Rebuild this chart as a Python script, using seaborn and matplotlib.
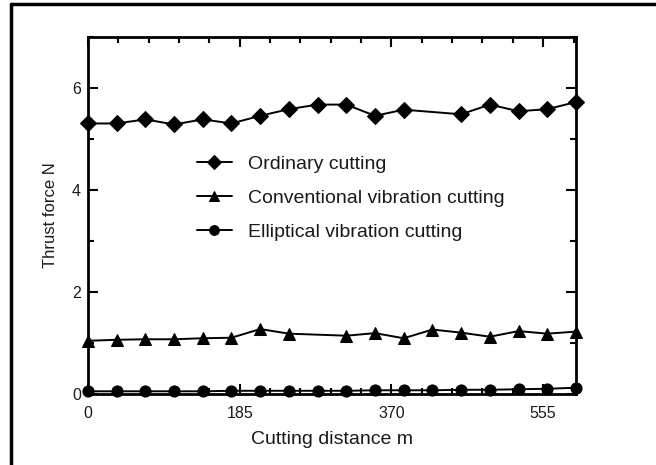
import matplotlib
matplotlib.use("Agg")
import matplotlib.pyplot as plt
from matplotlib.ticker import MultipleLocator, FixedLocator
import seaborn as sns
import pandas as pd

# Data
ordinary_x = [0, 35, 70, 105, 140, 175, 210, 245, 280, 315, 350, 385, 455, 490, 525, 560, 595]
ordinary_y = [5.30, 5.30, 5.38, 5.28, 5.38, 5.30, 5.45, 5.58, 5.67, 5.67, 5.45, 5.57, 5.48, 5.67, 5.54, 5.58, 5.72]

conv_x = [0, 35, 70, 105, 140, 175, 210, 245, 315, 350, 385, 420, 455, 490, 525, 560, 595]
conv_y = [1.04, 1.06, 1.07, 1.07, 1.09, 1.10, 1.27, 1.18, 1.14, 1.19, 1.09, 1.26, 1.20, 1.12, 1.23, 1.18, 1.22]

ellip_x = [0, 35, 70, 105, 140, 175, 210, 245, 280, 315, 350, 385, 420, 455, 490, 525, 560, 595]
ellip_y = [0.05, 0.05, 0.05, 0.05, 0.05, 0.06, 0.06, 0.06, 0.06, 0.06, 0.07, 0.07, 0.07, 0.08, 0.08, 0.09, 0.10, 0.12]

series_names = ["Ordinary cutting", "Conventional vibration cutting", "Elliptical vibration cutting"]
x_ticks = [0, 185, 370, 555]
y_ticks = [0, 2, 4, 6]

frames = []
for name, xs, ys in zip(series_names, [ordinary_x, conv_x, ellip_x], [ordinary_y, conv_y, ellip_y]):
    frames.append(pd.DataFrame({"x": xs, "y": ys, "series": name}))
df = pd.concat(frames, ignore_index=True)

sns.set_style("ticks")
plt.rcParams["font.family"] = ["Liberation Sans", "DejaVu Sans"]

fig = plt.figure(figsize=(6.56, 4.65), dpi=100)
ax = fig.add_axes([0.134, 0.153, 0.744, 0.768])

sns.lineplot(data=df, x="x", y="y", hue="series", style="series",
             hue_order=series_names, style_order=series_names,
             palette=["black", "black", "black"],
             markers={"Ordinary cutting": "D", "Conventional vibration cutting": "^",
                      "Elliptical vibration cutting": "o"},
             dashes=False, markersize=8, linewidth=1.4, markeredgecolor="black",
             ax=ax, legend=True)
for ln in ax.lines:
    ln.set_clip_on(False)
    ln.set_zorder(3)

ax.set_xlim(0, 595)
ax.set_ylim(0, 7)
ax.xaxis.set_major_locator(FixedLocator(x_ticks))
ax.xaxis.set_minor_locator(MultipleLocator(37))
ax.yaxis.set_major_locator(FixedLocator(y_ticks))
ax.yaxis.set_minor_locator(MultipleLocator(1))
ax.tick_params(which="both", direction="in", top=True, right=True, width=1.5, colors="black",
               labelsize=11.5, labelcolor="#1a1a1a")
ax.tick_params(which="major", length=7)
ax.tick_params(axis="x", which="major", pad=9)
ax.tick_params(axis="y", which="major", pad=5)
ax.tick_params(which="minor", length=4)
for s in ax.spines.values():
    s.set_linewidth(2)
    s.set_color("black")

ax.set_xlabel("Cutting distance m", fontsize=14, color="#1a1a1a", labelpad=7)
ax.set_ylabel("Thrust force N", fontsize=12, color="#1a1a1a", labelpad=10)

leg = ax.legend(loc="upper left", bbox_to_anchor=(0.223, 0.667), frameon=False,
                borderpad=0, borderaxespad=0,
                fontsize=14, handlelength=1.8, labelspacing=0.83, handletextpad=0.82)
for t in leg.get_texts():
    t.set_color("#1a1a1a")
for h in leg.legend_handles:
    h.set_markersize(7)

# outer frame lines (left and top)
fig.add_artist(plt.Line2D([11 / 656, 11 / 656], [0, 1 - 4 / 465], color="black", lw=2.5,
                          transform=fig.transFigure))
fig.add_artist(plt.Line2D([11 / 656, 1], [1 - 4 / 465, 1 - 4 / 465], color="black", lw=2.5,
                          transform=fig.transFigure))

fig.savefig("out.png", dpi=100)
